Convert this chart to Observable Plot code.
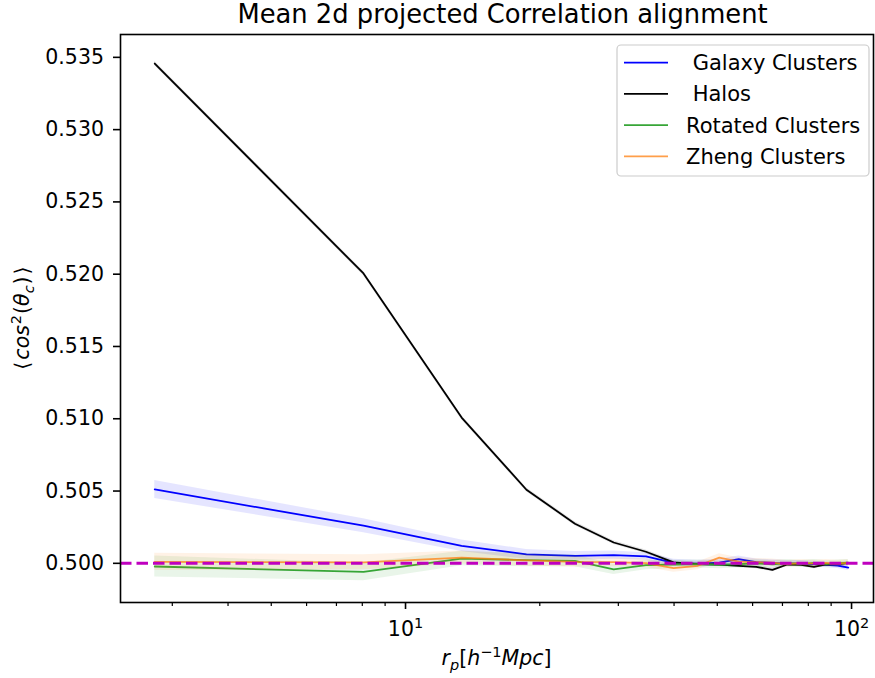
<!DOCTYPE html>
<html>
<head>
<meta charset="utf-8">
<script src="https://cdn.jsdelivr.net/npm/d3@7"></script>
<script src="https://cdn.jsdelivr.net/npm/@observablehq/plot@0.6"></script>
<style>
  html, body { margin: 0; padding: 0; background: white; }
  svg { display: block; }
</style>
</head>
<body>
<div id="chart"></div>
<script>
// ---- data ----
const rp = [2.74, 8.05, 13.36, 18.67, 23.98, 29.29, 34.6, 39.91, 45.22, 50.53,
            55.84, 61.15, 66.46, 71.77, 77.08, 82.39, 87.7, 93.01, 98.32];

const seriesNames = [" Galaxy Clusters", " Halos", "Rotated Clusters", "Zheng Clusters"];
const seriesColors = ["#0000ff", "#000000", "#2ca02c", "#ff7f0e"];
const lineOpacity = [1, 1, 0.95, 0.75];

const galaxy = [0.50511, 0.50260, 0.50121, 0.50062, 0.50052, 0.50057, 0.50048, 0.50003, 0.49998, 0.50005,
                0.50029, 0.50008, 0.50003, 0.49998, 0.50000, 0.49995, 0.49990, 0.49985, 0.49971];
const galaxyErr = [0.00062, 0.00048, 0.00040, 0.00034, 0.00030, 0.00028, 0.00026, 0.00025, 0.00024, 0.00023,
                   0.00022, 0.00022, 0.00021, 0.00021, 0.00020, 0.00020, 0.00020, 0.00020, 0.00020];

const halos = [0.53457, 0.52005, 0.51008, 0.50509, 0.50274, 0.50144, 0.50080, 0.50007, 0.49995, 0.49991,
               0.49983, 0.49976, 0.49955, 0.49992, 0.49990, 0.49975, 0.49992, 0.49995, 0.50002];
const halosErr = [0.00016, 0.00015, 0.00015, 0.00014, 0.00014, 0.00013, 0.00013, 0.00013, 0.00013, 0.00013,
                  0.00013, 0.00013, 0.00013, 0.00013, 0.00013, 0.00013, 0.00013, 0.00013, 0.00013];

const rotated = [0.49978, 0.49941, 0.50033, 0.50022, 0.50017, 0.49958, 0.49988, 0.49992, 0.49995, 0.49990,
                 0.49995, 0.50000, 0.49993, 0.50002, 0.49995, 0.50003, 0.49995, 0.50000, 0.50005];
const rotatedErr = [0.00072, 0.00062, 0.00050, 0.00045, 0.00040, 0.00035, 0.00032, 0.00030, 0.00028, 0.00027,
                    0.00026, 0.00025, 0.00025, 0.00024, 0.00024, 0.00023, 0.00023, 0.00023, 0.00022];

const zheng = [0.50010, 0.50007, 0.50040, 0.50020, 0.50010, 0.50008, 0.50002, 0.49967, 0.49983, 0.50040,
               0.50012, 0.50008, 0.50005, 0.49995, 0.50003, 0.49998, 0.50003, 0.49998, 0.50003];
const zhengErr = [0.00060, 0.00052, 0.00045, 0.00040, 0.00035, 0.00032, 0.00030, 0.00028, 0.00027, 0.00027,
                  0.00026, 0.00025, 0.00025, 0.00024, 0.00024, 0.00023, 0.00023, 0.00023, 0.00022];

const yTicks = [0.500, 0.505, 0.510, 0.515, 0.520, 0.525, 0.530, 0.535];
const xMajorTicks = [10, 100];
const xMajorBase = ["10", "10"];
const xMajorExp = ["1", "2"];
const xMinorTicks = [3, 4, 5, 6, 7, 8, 9, 20, 30, 40, 50, 60, 70, 80, 90];
const referenceLevel = [0.5];

// ---- build tables ----
const values = [galaxy, halos, rotated, zheng];
const errs = [galaxyErr, halosErr, rotatedErr, zhengErr];
const tables = values.map((vals, i) => vals.map((v, j) => ({
  r: rp[j], v, lo: v - errs[i][j], hi: v + errs[i][j]
})));

const tickIndex = new Map(xMajorTicks.map((t, i) => [t, i]));

const seriesMarks = [];
tables.forEach((t, i) => {
  seriesMarks.push(Plot.areaY(t, {x: "r", y1: "lo", y2: "hi", fill: seriesColors[i], fillOpacity: 0.1}));
  seriesMarks.push(Plot.lineY(t, {x: "r", y: "v", stroke: seriesColors[i], strokeWidth: 1.8, strokeOpacity: lineOpacity[i]}));
});

const W = 875, H = 678;
const mL = 120, mR = 2, mT = 34, mB = 76;

const chart = Plot.plot({
  width: W, height: H,
  marginLeft: mL, marginRight: mR, marginTop: mT, marginBottom: mB,
  style: {fontFamily: "DejaVu Sans", fontSize: "20.5px", background: "white", color: "black"},
  x: {type: "log", domain: [2.296, 112.0]},
  y: {domain: [0.49729, 0.53658]},
  marks: [
    ...seriesMarks,
    Plot.ruleY(referenceLevel, {stroke: "#bf00bf", strokeWidth: 3, strokeDasharray: "11.5,5"}),
    Plot.frame({stroke: "black", strokeWidth: 1.6}),
    Plot.axisY(yTicks, {tickFormat: d3.format(".3f"), tickSize: 7, tickPadding: 9.5, label: null, fontSize: 20.5, strokeWidth: 1.6}),
    Plot.axisX(xMajorTicks, {tickFormat: d => xMajorBase[tickIndex.get(d)] + "^" + xMajorExp[tickIndex.get(d)],
                             tickSize: 7, tickPadding: 12, label: null, fontSize: 20.5, strokeWidth: 1.6}),
    Plot.axisX(xMinorTicks, {tickFormat: () => "", tickSize: 4, label: null, strokeWidth: 1.2})
  ]
});

document.getElementById("chart").appendChild(chart);
const svg = d3.select(chart);
const font = "DejaVu Sans";
const cx = mL + (W - mL - mR) / 2;

// rebuild "10^1" style tick labels with real superscripts
svg.selectAll("text").each(function () {
  const el = d3.select(this);
  if (el.selectAll("tspan").size() > 0) return;
  const t = el.text();
  const m = /^(\d+)\^(\d+)$/.exec(t);
  if (!m) return;
  el.text("");
  el.append("tspan").text(m[1]);
  el.append("tspan").attr("font-size", 14.5).attr("dy", -8.5).text(m[2]);
});

// title
svg.append("text")
  .attr("x", cx + 6).attr("y", 23)
  .attr("text-anchor", "middle")
  .attr("font-family", font).attr("font-size", 25.8)
  .attr("fill", "black")
  .text("Mean 2d projected Correlation alignment");

// x label: r_p[h^{-1}Mpc]
const xl = svg.append("text")
  .attr("x", cx).attr("y", 665)
  .attr("text-anchor", "middle")
  .attr("font-family", font).attr("font-size", 20.5).attr("fill", "black");
xl.append("tspan").attr("font-style", "italic").text("r");
xl.append("tspan").attr("font-style", "italic").attr("font-size", 14.5).attr("dy", 4.5).text("p");
xl.append("tspan").attr("dy", -4.5).text("[");
xl.append("tspan").attr("font-style", "italic").text("h");
xl.append("tspan").attr("font-size", 14.5).attr("dy", -8.5).text("−1");
xl.append("tspan").attr("font-style", "italic").attr("dy", 8.5).text("Mpc");
xl.append("tspan").text("]");

// y label: <cos^2(theta_c)>
const yl = svg.append("text")
  .attr("transform", `translate(29,${mT + (H - mT - mB) / 2}) rotate(-90)`)
  .attr("text-anchor", "middle")
  .attr("font-family", font).attr("font-size", 20.5).attr("fill", "black");
yl.append("tspan").text("⟨");
yl.append("tspan").attr("font-style", "italic").attr("dx", 2).text("cos");
yl.append("tspan").attr("font-size", 14.5).attr("dy", -8.5).attr("dx", 1).text("2");
yl.append("tspan").attr("dy", 8.5).attr("dx", 1).text("(");
yl.append("tspan").attr("font-style", "italic").text("θ");
yl.append("tspan").attr("font-style", "italic").attr("font-size", 14.5).attr("dy", 4.5).text("c");
yl.append("tspan").attr("dy", -4.5).attr("dx", 1).text(")");
yl.append("tspan").attr("dx", 2).text("⟩");

// legend
const lg = svg.append("g");
lg.append("rect")
  .attr("x", 617).attr("y", 45).attr("width", 252).attr("height", 131)
  .attr("rx", 4).attr("ry", 4)
  .attr("fill", "white").attr("fill-opacity", 0.8)
  .attr("stroke", "#cccccc").attr("stroke-width", 1.2);
seriesNames.forEach((name, i) => {
  const yy = 62.7 + i * 31.2;
  lg.append("line")
    .attr("x1", 624).attr("x2", 668).attr("y1", yy).attr("y2", yy)
    .attr("stroke", seriesColors[i]).attr("stroke-width", 1.8).attr("stroke-opacity", lineOpacity[i]);
  lg.append("text")
    .attr("x", 686).attr("y", yy).attr("dy", "0.36em")
    .attr("text-anchor", "start")
    .attr("font-family", font).attr("font-size", 21).attr("fill", "black")
    .style("white-space", "pre")
    .text(name);
});
</script>
</body>
</html>
